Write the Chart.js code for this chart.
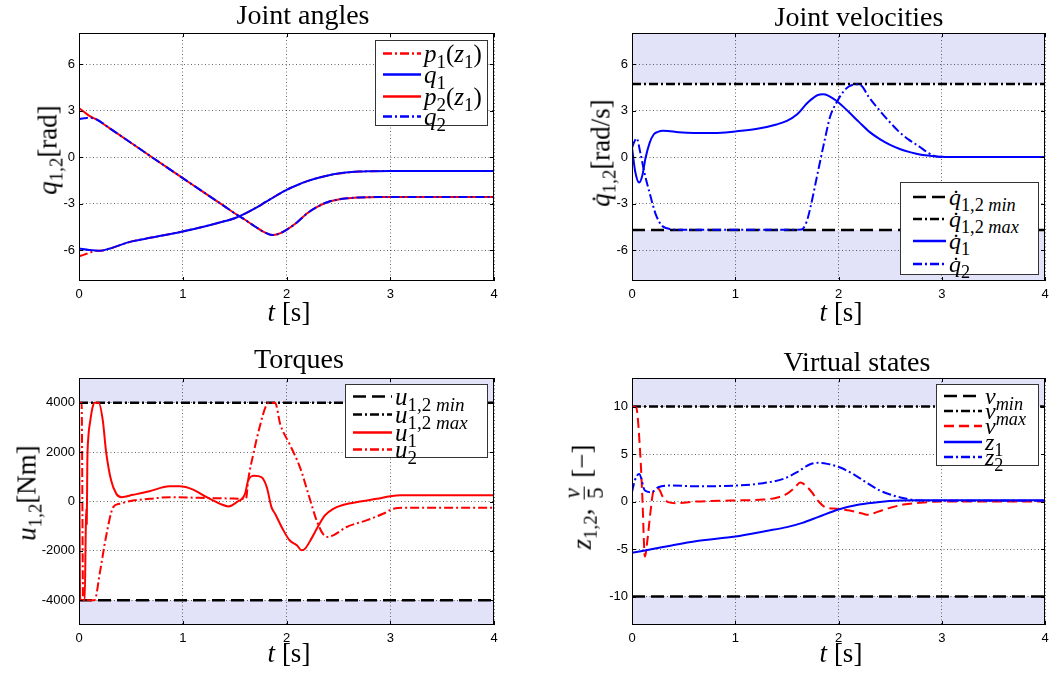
<!DOCTYPE html>
<html><head><meta charset="utf-8">
<script src="https://cdn.jsdelivr.net/npm/chart.js@4"></script>
<style>
body{margin:0;background:#fff;}
#wrap{position:relative;width:1062px;height:679px;overflow:hidden;font-family:"Liberation Serif","Times New Roman",serif;background:#fff;}
canvas{position:absolute;}
.t{position:absolute;white-space:nowrap;line-height:1;color:#000;z-index:3;}
.title{font-size:28px;transform:translateX(-50%);}
.xl{font-size:27px;transform:translateX(-50%);}
.yl{font-size:27px;transform:translate(-50%,-50%) rotate(-90deg);}
i{font-style:italic;}
sub{font-size:70%;vertical-align:-0.32em;line-height:0;}
.leg sub{font-size:76%;}
.leg{position:absolute;background:#fff;border:1px solid #333;box-sizing:border-box;z-index:4;}
.row{position:absolute;white-space:nowrap;line-height:1;display:flex;align-items:center;transform:translateY(-50%);}
.row svg{flex:none;display:block;}
.row span{padding-left:3px;}
.frac{display:inline-flex;flex-direction:column;align-items:center;vertical-align:middle;font-size:85%;line-height:0.95;margin:0 2px;}
.frac .fb{border-top:1.5px solid #000;padding:0 1px;}
</style></head>
<body>
<div id="wrap">
<canvas id="c1"></canvas><canvas id="c2"></canvas><canvas id="c3"></canvas><canvas id="c4"></canvas>

<div class="t title" style="left:303px;top:1px">Joint angles</div>
<div class="t title" style="left:859px;top:3px">Joint velocities</div>
<div class="t title" style="left:299px;top:345px">Torques</div>
<div class="t title" style="left:857px;top:348px">Virtual states</div>

<div class="t xl" style="left:289px;top:299px"><i>t</i> [s]</div>
<div class="t xl" style="left:841px;top:299px"><i>t</i> [s]</div>
<div class="t xl" style="left:289px;top:640px"><i>t</i> [s]</div>
<div class="t xl" style="left:841px;top:640px"><i>t</i> [s]</div>

<div class="t yl" style="left:48px;top:150px"><i>q</i><sub>1,2</sub>[rad]</div>
<div class="t yl" style="left:601px;top:153px"><i>q̇</i><sub>1,2</sub>[rad/s]</div>
<div class="t yl" style="left:27px;top:493px"><i>u</i><sub>1,2</sub>[Nm]</div>
<div class="t yl" style="left:584px;top:497px"><i>z</i><sub>1,2</sub>, <span class="frac"><span><i>v</i></span><span class="fb">5</span></span> [−]</div>

<div id="legends"></div>
</div>
<script>
// ---------------- DATA ----------------
const tickX = [0, 1, 2, 3, 4];
const tickQ = [-6, -3, 0, 3, 6];
const tickU = [-4000, -2000, 0, 2000, 4000];
const tickV = [-10, -5, 0, 5, 10];

// Joint angles
const t_p1 = [0, 0.05, 0.1, 0.17, 0.2, 0.3, 0.5, 0.7, 1.0, 1.2, 1.4, 1.5, 1.6, 1.7, 1.8, 1.9, 2.0, 2.1, 2.2, 2.3, 2.4, 2.5, 2.6, 2.7, 2.8, 3.0, 4.0];
const p1   = [-6.4, -6.3, -6.18, -6.05, -6.05, -5.9, -5.46, -5.2, -4.8, -4.5, -4.15, -3.95, -3.65, -3.3, -2.9, -2.5, -2.12, -1.82, -1.56, -1.35, -1.19, -1.07, -0.99, -0.94, -0.92, -0.9, -0.9];
const t_q1 = [0, 0.1, 0.2, 0.3, 0.5, 0.7, 1.0, 1.2, 1.4, 1.5, 1.6, 1.7, 1.8, 1.9, 2.0, 2.1, 2.2, 2.3, 2.4, 2.5, 2.6, 2.7, 2.8, 3.0, 4.0];
const q1   = [-5.9, -6.0, -6.05, -5.9, -5.46, -5.2, -4.8, -4.5, -4.15, -3.95, -3.65, -3.3, -2.9, -2.5, -2.12, -1.82, -1.56, -1.35, -1.19, -1.07, -0.99, -0.94, -0.92, -0.9, -0.9];
const t_p2 = [0, 0.05, 0.1, 0.17, 0.3, 0.5, 0.7, 1.0, 1.2, 1.4, 1.5, 1.6, 1.7, 1.8, 1.86, 1.92, 2.0, 2.1, 2.2, 2.3, 2.4, 2.5, 2.6, 2.7, 2.8, 2.9, 3.0, 4.0];
const p2   = [3.15, 2.9, 2.65, 2.42, 1.83, 0.92, 0.0, -1.36, -2.27, -3.17, -3.63, -4.05, -4.5, -4.9, -5.03, -4.97, -4.7, -4.23, -3.63, -3.2, -2.9, -2.74, -2.66, -2.61, -2.59, -2.58, -2.58, -2.58];
const t_q2 = [0, 0.05, 0.1, 0.17, 0.3, 0.5, 0.7, 1.0, 1.2, 1.4, 1.5, 1.6, 1.7, 1.8, 1.86, 1.92, 2.0, 2.1, 2.2, 2.3, 2.4, 2.5, 2.6, 2.7, 2.8, 2.9, 3.0, 4.0];
const q2   = [2.45, 2.5, 2.53, 2.42, 1.83, 0.92, 0.0, -1.36, -2.27, -3.17, -3.63, -4.05, -4.5, -4.9, -5.03, -4.97, -4.7, -4.23, -3.63, -3.2, -2.9, -2.74, -2.66, -2.61, -2.59, -2.58, -2.58, -2.58];

// Joint velocities
const qdLimits = [-4.71, 4.71];
const t_qd1 = [0, 0.03, 0.07, 0.1, 0.13, 0.17, 0.21, 0.25, 0.3, 0.35, 0.45, 0.6, 0.8, 1.0, 1.2, 1.4, 1.5, 1.6, 1.7, 1.8, 1.85, 1.9, 2.0, 2.1, 2.2, 2.3, 2.4, 2.5, 2.6, 2.7, 2.8, 2.9, 3.0, 3.2, 4.0];
const qd1   = [0.6, -0.9, -1.65, -1.2, -0.1, 0.9, 1.45, 1.62, 1.7, 1.68, 1.6, 1.55, 1.55, 1.65, 1.8, 2.1, 2.33, 2.76, 3.5, 4.0, 4.05, 3.96, 3.52, 2.9, 2.25, 1.62, 1.15, 0.78, 0.5, 0.3, 0.15, 0.07, 0.02, 0, 0];
const t_qd2 = [0, 0.02, 0.045, 0.08, 0.12, 0.17, 0.23, 0.29, 0.34, 0.39, 0.5, 1.0, 1.5, 1.64, 1.69, 1.73, 1.79, 1.86, 1.92, 1.98, 2.04, 2.1, 2.18, 2.23, 2.29, 2.39, 2.49, 2.58, 2.68, 2.78, 2.87, 2.94, 3.0, 4.0];
const qd2   = [0.6, 0.95, 1.2, 0.3, -1.0, -2.3, -3.7, -4.43, -4.6, -4.67, -4.7, -4.7, -4.7, -4.68, -4.2, -3.2, -1.3, 0.9, 2.63, 3.5, 4.15, 4.55, 4.7, 4.55, 3.9, 3.07, 2.3, 1.67, 1.12, 0.69, 0.26, 0.04, 0, 0];

// Torques
const uLimits = [-4000, 4000];
const t_u1 = [0, 0.012, 0.055, 0.065, 0.07, 0.075, 0.08, 0.09, 0.11, 0.13, 0.15, 0.19, 0.23, 0.26, 0.31, 0.36, 0.41, 0.52, 0.68, 0.87, 0.97, 1.1, 1.23, 1.36, 1.44, 1.52, 1.6, 1.63, 1.69, 1.76, 1.81, 1.855, 1.89, 1.97, 2.03, 2.1, 2.145, 2.18, 2.24, 2.31, 2.37, 2.45, 2.55, 2.71, 2.87, 3.0, 3.1, 4.0];
const u1   = [4000, -4000, -4000, -1200, -300, -900, 1500, 2600, 3300, 3800, 4000, 4000, 3262, 2054, 846, 309, 175, 270, 415, 617, 617, 483, 175, -94, -200, -27, 309, 845, 1047, 980, 577, -228, -497, -1168, -1570, -1772, -1973, -1906, -1503, -966, -564, -295, -134, 0, 107, 215, 255, 255];
const t_u2 = [0, 0.025, 0.04, 0.15, 0.2, 0.26, 0.33, 0.39, 0.52, 0.68, 0.875, 1.16, 1.49, 1.61, 1.63, 1.68, 1.74, 1.81, 1.84, 1.89, 1.94, 2.03, 2.13, 2.22, 2.29, 2.35, 2.4, 2.45, 2.58, 2.77, 2.93, 3.03, 3.16, 4.0];
const u2   = [4000, 4000, -4000, -4000, -2912, -1436, -228, -94, 40, 107, 175, 148, 120, 107, 845, 1919, 2993, 3933, 4000, 4000, 3127, 2322, 1383, 175, -765, -1302, -1436, -1369, -1033, -765, -497, -295, -255, -255];

// Virtual states
const vLimits = [-10, 10];
const t_v = [0, 0.04, 0.08, 0.1, 0.125, 0.15, 0.18, 0.21, 0.255, 0.3, 0.35, 0.43, 0.63, 0.95, 1.27, 1.4, 1.5, 1.58, 1.63, 1.68, 1.74, 1.8, 1.87, 1.98, 2.11, 2.24, 2.29, 2.37, 2.5, 2.63, 2.79, 3.0, 4.0];
const v   = [10, 9.9, 5.0, 0.5, -5.8, -4.0, -1.0, 1.16, 1.33, 0.46, -0.07, -0.18, 0, 0.1, 0.2, 0.4, 0.8, 1.5, 2.0, 1.7, 1.0, 0.1, -0.6, -0.77, -0.95, -1.3, -1.4, -1.12, -0.67, -0.32, -0.14, 0, 0];
const t_z1 = [0, 0.3, 0.63, 1.0, 1.3, 1.5, 1.65, 1.8, 2.0, 2.2, 2.4, 2.6, 2.8, 3.0, 4.0];
const z1   = [-5.4, -4.8, -4.15, -3.68, -3.1, -2.7, -2.25, -1.65, -0.84, -0.32, -0.04, 0.1, 0.14, 0.12, 0.12];
const t_z2 = [0, 0.03, 0.07, 0.125, 0.19, 0.255, 0.37, 0.63, 1.0, 1.27, 1.47, 1.6, 1.72, 1.8, 1.89, 2.01, 2.14, 2.27, 2.4, 2.53, 2.66, 2.79, 3.0, 4.0];
const z2   = [1.0, 2.3, 2.9, 1.16, 0.98, 1.5, 1.68, 1.6, 1.68, 1.93, 2.4, 3.1, 3.9, 4.07, 3.96, 3.6, 2.9, 2.0, 1.16, 0.63, 0.28, 0.1, 0.08, 0.08];

// ---------------- STYLE ----------------
const RED = '#ff0000', BLUE = '#0000ff', BLACK = '#000000';
const SHADE = '#e2e2f8';
const DD = [9, 3, 2, 3];
const DASH = [13, 6];
const VDASH = [10, 5];

function pts(t, y) { return t.map((tt, i) => ({ x: tt, y: y[i] })); }
function ds(label, t, y, color, dash, width) {
  return { label, data: pts(t, y), borderColor: color, borderWidth: width || 2, borderDash: dash || [],
    pointRadius: 0, pointHoverRadius: 0, fill: false, cubicInterpolationMode: 'monotone' };
}
function limitDs(label, val, dash) {
  return ds(label, [tickX[0], tickX[tickX.length - 1]], [val, val], BLACK, dash, 2.5);
}

const boxPlugin = {
  id: 'mbox',
  beforeDraw(chart, args, opts) {
    const { ctx, chartArea: a, scales: { y } } = chart;
    if (opts && opts.lim) {
      const yh = y.getPixelForValue(opts.lim[1]);
      const yl = y.getPixelForValue(opts.lim[0]);
      ctx.save(); ctx.fillStyle = SHADE;
      ctx.fillRect(a.left, a.top, a.right - a.left, yh - a.top);
      ctx.fillRect(a.left, yl, a.right - a.left, a.bottom - yl);
      ctx.restore();
    }
  },
  afterDatasetsDraw(chart) {
    const { ctx, chartArea: a, scales: { x, y } } = chart;
    ctx.save();
    ctx.strokeStyle = '#000'; ctx.lineWidth = 1; ctx.setLineDash([]);
    ctx.strokeRect(Math.round(a.left) + 0.5, Math.round(a.top) + 0.5, Math.round(a.right - a.left) - 1, Math.round(a.bottom - a.top) - 1);
    ctx.beginPath();
    x.ticks.forEach(tk => {
      const px = Math.round(x.getPixelForValue(tk.value)) + 0.5;
      ctx.moveTo(px, a.bottom); ctx.lineTo(px, a.bottom - 4);
      ctx.moveTo(px, a.top); ctx.lineTo(px, a.top + 4);
    });
    y.ticks.forEach(tk => {
      const py = Math.round(y.getPixelForValue(tk.value)) + 0.5;
      ctx.moveTo(a.left, py); ctx.lineTo(a.left + 4, py);
      ctx.moveTo(a.right, py); ctx.lineTo(a.right - 4, py);
    });
    ctx.stroke();
    ctx.restore();
  }
};

function axis(min, max, ticks, isX) {
  const o = {
    type: 'linear', min, max,
    afterBuildTicks: s => { s.ticks = ticks.map(v => ({ value: v })); },
    grid: { color: 'rgba(0,0,0,0.6)', lineWidth: 1, drawTicks: false },
    border: { display: false, dash: [1, 2.5] },
    ticks: { color: '#000', font: { family: '"Liberation Sans", Arial, sans-serif', size: 13 },
      padding: isX ? 6 : 4, maxRotation: 0, autoSkip: false, callback: val => String(val) }
  };
  if (isX) o.afterFit = s => { s.height = 22; }; else o.afterFit = s => { s.width = 50; };
  return o;
}

function makeChart(id, rect, yMin, yMax, yTicks, datasets, lim) {
  const [L, T, R, B] = rect;
  const cv = document.getElementById(id);
  const w = R - L + 64, h = B - T + 36;
  cv.width = w; cv.height = h;
  cv.style.left = (L - 50) + 'px'; cv.style.top = (T - 14) + 'px';
  cv.style.width = w + 'px'; cv.style.height = h + 'px';
  datasets.forEach((d, i) => { d.order = datasets.length - i; });
  return new Chart(cv, {
    type: 'line',
    data: { datasets },
    options: {
      responsive: false, animation: false, devicePixelRatio: 1,
      layout: { padding: { left: 0, top: 14, right: 14, bottom: 0 } },
      plugins: { legend: { display: false }, tooltip: { enabled: false }, title: { display: false }, mbox: { lim } },
      scales: { x: axis(0, 4, tickX, true), y: axis(yMin, yMax, yTicks, false) }
    },
    plugins: [boxPlugin]
  });
}

makeChart('c1', [79, 33, 494, 281], -8, 8, tickQ, [
  ds('p1(z1)', t_p1, p1, RED, DD),
  ds('q1', t_q1, q1, BLUE, []),
  ds('p2(z1)', t_p2, p2, RED, []),
  ds('q2', t_q2, q2, BLUE, DD)
], null);

makeChart('c2', [632, 33, 1045, 281], -8, 8, tickQ, [
  limitDs('qd min', qdLimits[0], DASH),
  limitDs('qd max', qdLimits[1], DD),
  ds('qd1', t_qd1, qd1, BLUE, []),
  ds('qd2', t_qd2, qd2, BLUE, DD)
], qdLimits);

makeChart('c3', [79, 378, 494, 625], -5000, 5000, tickU, [
  limitDs('u min', uLimits[0], DASH),
  limitDs('u max', uLimits[1], DD),
  ds('u1', t_u1, u1, RED, []),
  ds('u2', t_u2, u2, RED, DD)
], uLimits);

makeChart('c4', [632, 378, 1045, 625], -13, 13, tickV, [
  limitDs('v min', vLimits[0], DASH),
  limitDs('v max', vLimits[1], DD),
  ds('v', t_v, v, RED, VDASH),
  ds('z1', t_z1, z1, BLUE, []),
  ds('z2', t_z2, z2, BLUE, DD)
], vLimits);

// ---------------- LEGENDS (HTML) ----------------
function sample(color, dash, w) {
  return `<svg width="${w}" height="8"><line x1="0" y1="4" x2="${w}" y2="4" stroke="${color}" stroke-width="2.5" stroke-dasharray="${dash.join(' ')}"/></svg>`;
}
function legend(box, fs, rows, x0, sw) {
  const [l, t, r, b] = box;
  let html = `<div class="leg" style="left:${l}px;top:${t}px;width:${r - l}px;height:${b - t}px">`;
  rows.forEach(rw => {
    html += `<div class="row" style="left:${x0}px;top:${rw.y}px;font-size:${fs}px">${sample(rw.c, rw.d, sw)}<span>${rw.txt}</span></div>`;
  });
  return html + '</div>';
}
const QD = '<i>q̇</i>';
document.getElementById('legends').innerHTML =
  legend([375, 40, 488, 126], 25, [
    { y: 12, c: RED, d: DD, txt: '<i>p</i><sub>1</sub>(<i>z</i><sub>1</sub>)' },
    { y: 33, c: BLUE, d: [], txt: '<i>q</i><sub>1</sub>' },
    { y: 55, c: RED, d: [], txt: '<i>p</i><sub>2</sub>(<i>z</i><sub>1</sub>)' },
    { y: 75, c: BLUE, d: DD, txt: '<i>q</i><sub>2</sub>' }
  ], 7, 38) +
  legend([900, 182, 1039, 275], 24, [
    { y: 14, c: BLACK, d: DASH, txt: QD + '<sub>1,2 <i>min</i></sub>' },
    { y: 36, c: BLACK, d: DD, txt: QD + '<sub>1,2 <i>max</i></sub>' },
    { y: 58, c: BLUE, d: [], txt: QD + '<sub>1</sub>' },
    { y: 81, c: BLUE, d: DD, txt: QD + '<sub>2</sub>' }
  ], 12, 33) +
  legend([345, 384, 488, 458], 25, [
    { y: 11, c: BLACK, d: DASH, txt: '<i>u</i><sub>1,2 <i>min</i></sub>' },
    { y: 29, c: BLACK, d: DD, txt: '<i>u</i><sub>1,2 <i>max</i></sub>' },
    { y: 47, c: RED, d: [], txt: '<i>u</i><sub>1</sub>' },
    { y: 64, c: RED, d: DD, txt: '<i>u</i><sub>2</sub>' }
  ], 7, 39) +
  legend([936, 384, 1039, 466], 24, [
    { y: 11, c: BLACK, d: DASH, txt: '<i>v</i><sub><i>min</i></sub>' },
    { y: 26, c: BLACK, d: DD, txt: '<i>v</i><sub><i>max</i></sub>' },
    { y: 41, c: RED, d: VDASH, txt: '<i>v</i>' },
    { y: 57, c: BLUE, d: [], txt: '<i>z</i><sub>1</sub>' },
    { y: 72, c: BLUE, d: DD, txt: '<i>z</i><sub>2</sub>' }
  ], 7, 38);
</script>
</body></html>
